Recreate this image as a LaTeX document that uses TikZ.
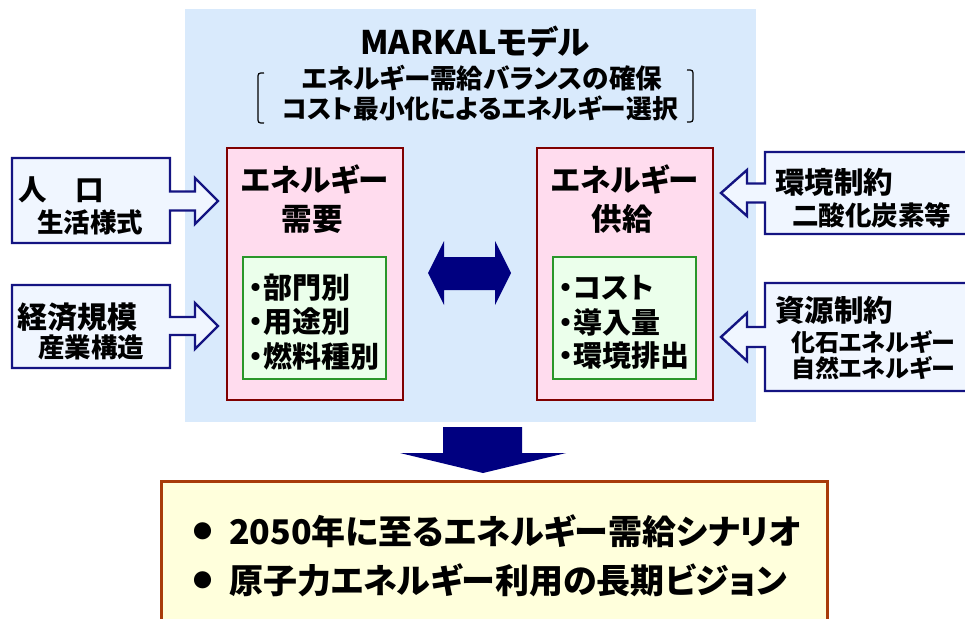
\documentclass[tikz,border=0pt]{standalone}
\usepackage{fontspec}
\setmainfont{Noto Sans CJK JP}[RawFeature={+palt}]
\definecolor{bgblue}{HTML}{D9EAFC}
\definecolor{pinkfill}{HTML}{FFDCEE}
\definecolor{pinkline}{HTML}{800000}
\definecolor{greenfill}{HTML}{EBFFEB}
\definecolor{greenline}{HTML}{2A962A}
\definecolor{callfill}{HTML}{F0F6FF}
\definecolor{callline}{HTML}{141482}
\definecolor{navy}{HTML}{000080}
\definecolor{yelfill}{HTML}{FFFFDC}
\definecolor{yelline}{HTML}{A83C0A}
\newcommand{\fs}[1]{\fontsize{#1}{#1}\selectfont\bfseries}
\tikzset{
  txt/.style={inner sep=0pt, outer sep=0pt, text=black},
  pinkbox/.style={draw=pinkline, fill=pinkfill, line width=2.5pt, inner sep=0pt},
  greenbox/.style={draw=greenline, fill=greenfill, line width=1.4pt, inner sep=0pt},
  callout/.style={draw=callline, fill=callfill, line width=2.4pt, line join=miter},
  bigarrow/.style={fill=navy, draw=none},
  bracketline/.style={draw=black, line width=1.2pt},
  yelbox/.style={draw=yelline, fill=yelfill, line width=3pt},
}
\begin{document}
\begin{tikzpicture}[x=1pt,y=-1pt]
\useasboundingbox (0,0) rectangle (965,618);
% background of the model
\fill[bgblue] (185,9) rectangle (756,422);
% title
\node[txt, font=\fs{32.5}] (title) at (475,42) {MARKALモデル};
\node[txt, font=\fs{26.6}] (sub1) at (482,78) {エネルギー需給バランスの確保};
\node[txt, font=\fs{25.8}] (sub2) at (480,108) {コスト最小化によるエネルギー選択};
\draw[bracketline] (264,73) .. controls (258,73) .. (258,79) -- (258,117) .. controls (258,123) .. (264,123);
\draw[bracketline] (687,70) .. controls (693,70) .. (693,76) -- (693,116) .. controls (693,122) .. (687,122);
% demand / supply boxes
\node[pinkbox, minimum width=176pt, minimum height=252pt] (dem) at (315,274) {};
\node[pinkbox, minimum width=176pt, minimum height=252pt] (sup) at (625,274) {};
\node[greenbox, minimum width=143pt, minimum height=122pt] (demg) at (314.5,318) {};
\node[greenbox, minimum width=143pt, minimum height=122pt] (supg) at (624.5,318) {};
\node[txt, font=\fs{30.5}] (demt1) at (315,179) {エネルギー};
\node[txt, font=\fs{30.5}] (demt2) at (312,219) {需要};
\node[txt, font=\fs{30.5}] (supt1) at (625,179) {エネルギー};
\node[txt, font=\fs{30.5}] (supt2) at (622,219) {供給};
\node[txt, font=\fs{29}, anchor=west] (d1) at (249,288) {・部門別};
\node[txt, font=\fs{29}, anchor=west] (d2) at (249,322) {・用途別};
\node[txt, font=\fs{29}, anchor=west] (d3) at (249,356) {・燃料種別};
\node[txt, font=\fs{29}, anchor=west] (s1) at (559,288) {・コスト};
\node[txt, font=\fs{29}, anchor=west] (s2) at (559,322) {・導入量};
\node[txt, font=\fs{29}, anchor=west] (s3) at (559,356) {・環境排出};
% double arrow between demand and supply
\path[bigarrow] (428,273) -- (444,241) -- (444,257) -- (495,257) -- (495,241) -- (511,273)
  -- (495,305) -- (495,290) -- (444,290) -- (444,305) -- cycle;
% left callouts
\path[callout] (12,158) -- (170,158) -- (170,191.5) -- (195,191.5) -- (195,178) -- (218,201)
  -- (195,224) -- (195,210.5) -- (170,210.5) -- (170,243) -- (12,243) -- cycle;
\path[callout] (12,285) -- (170,285) -- (170,317) -- (195,317) -- (195,303) -- (218,326)
  -- (195,349) -- (195,335) -- (170,335) -- (170,368) -- (12,368) -- cycle;
\node[txt, font=\fs{28.5}, anchor=west] (l1a) at (18,190) {人　口};
\node[txt, font=\fs{26.5}, anchor=west] (l1b) at (37,222) {生活様式};
\node[txt, font=\fs{30}, anchor=west] (l2a) at (17,317) {経済規模};
\node[txt, font=\fs{26.5}, anchor=west] (l2b) at (38,347) {産業構造};
% right callouts
\path[callout] (980,152) -- (765,152) -- (765,183.5) -- (747,183.5) -- (747,170) -- (721,193)
  -- (747,216) -- (747,202.5) -- (765,202.5) -- (765,234) -- (980,234) -- cycle;
\path[callout] (980,283) -- (765,283) -- (765,327) -- (747,327) -- (747,313) -- (721,337)
  -- (747,361) -- (747,347) -- (765,347) -- (765,391) -- (980,391) -- cycle;
\node[txt, font=\fs{29.5}, anchor=west] (r1a) at (775,182) {環境制約};
\node[txt, font=\fs{26.5}, anchor=west] (r1b) at (792,215) {二酸化炭素等};
\node[txt, font=\fs{29.5}, anchor=west] (r2a) at (775,310) {資源制約};
\node[txt, font=\fs{24}, anchor=west] (r2b) at (791,342) {化石エネルギー};
\node[txt, font=\fs{24}, anchor=west] (r2c) at (791,368) {自然エネルギー};
% down arrow
\path[bigarrow] (443,427) -- (522,427) -- (522,453) -- (566,453) -- (483,473) -- (400,453)
  -- (443,453) -- cycle;
% result box
\path[yelbox] (161,640) -- (161,481) -- (827,481) -- (827,640);
\node[txt, font=\fs{19}] (b1) at (203,531) {●};
\node[txt, font=\fs{19}] (b2) at (203,580) {●};
\node[txt, font=\fs{34}, anchor=west] (res1) at (229,531) {2050年に至るエネルギー需給シナリオ};
\node[txt, font=\fs{34}, anchor=west] (res2) at (229,580) {原子力エネルギー利用の長期ビジョン};
\end{tikzpicture}
\end{document}
